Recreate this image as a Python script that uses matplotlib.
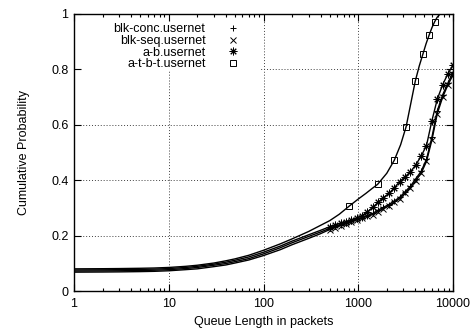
import matplotlib
matplotlib.use("Agg")
import matplotlib.pyplot as plt
from matplotlib.lines import Line2D
from matplotlib.patches import Rectangle
from matplotlib.ticker import FixedLocator, FixedFormatter, LogLocator, NullFormatter

plt.rcParams['font.family'] = ['Liberation Sans', 'DejaVu Sans']
plt.rcParams['font.size'] = 9

# ---- data -------------------------------------------------------------
labels = ["blk-conc.usernet", "blk-seq.usernet", "a-b.usernet", "a-t-b-t.usernet"]

# queue lengths (packets) sampled for the three block-style runs;
# points from 500 packets on carry a marker
q_runs = [1, 2, 3, 5, 7, 10, 15, 20, 30, 40, 50, 70, 100, 150, 200, 300, 400,
          500, 570, 650, 740, 840, 960, 1090, 1240, 1420, 1620, 1840, 2100,
          2400, 2730, 3110, 3550, 4040, 4610, 5250, 5990, 6820, 7780, 8860, 10000]
first_marked_q = 500

blk_conc_p = [0.072, 0.0725, 0.073, 0.074, 0.075, 0.077, 0.081, 0.085, 0.093, 0.099,
              0.106, 0.117, 0.134, 0.156, 0.174, 0.197, 0.213,
              0.226, 0.233, 0.240, 0.246, 0.252, 0.259, 0.265, 0.272, 0.280, 0.292, 0.302, 0.312,
              0.325, 0.338, 0.358, 0.378, 0.405, 0.432, 0.475, 0.555, 0.650, 0.708, 0.752, 0.790]
blk_seq_p = [0.068, 0.0685, 0.069, 0.070, 0.071, 0.073, 0.077, 0.080, 0.088, 0.094,
             0.101, 0.112, 0.128, 0.149, 0.167, 0.190, 0.207,
             0.222, 0.229, 0.236, 0.243, 0.250, 0.257, 0.263, 0.269, 0.276, 0.287, 0.297, 0.307,
             0.320, 0.333, 0.352, 0.372, 0.398, 0.425, 0.468, 0.545, 0.640, 0.700, 0.745, 0.780]
a_b_p = [0.076, 0.0765, 0.077, 0.078, 0.079, 0.081, 0.085, 0.089, 0.097, 0.104,
         0.111, 0.123, 0.140, 0.162, 0.180, 0.203, 0.219,
         0.232, 0.238, 0.245, 0.250, 0.255, 0.262, 0.272, 0.285, 0.302, 0.320, 0.337, 0.352,
         0.372, 0.395, 0.412, 0.430, 0.455, 0.487, 0.525, 0.615, 0.692, 0.745, 0.785, 0.815]

# a-t-b-t run: markers every 800 packets
q_atbt = [1, 2, 3, 5, 7, 10, 15, 20, 30, 40, 50, 70, 100, 150, 200, 300, 400, 500,
          630, 800, 1000, 1200, 1400, 1600, 2000, 2400, 2800, 3200, 3600, 4000, 4400,
          4800, 5200, 5600, 6000, 6400, 6800, 7300, 10000]
atbt_p = [0.080, 0.0805, 0.081, 0.082, 0.083, 0.085, 0.089, 0.093, 0.101, 0.109,
          0.116, 0.129, 0.147, 0.170, 0.188, 0.215, 0.237, 0.254,
          0.277, 0.306, 0.332, 0.352, 0.370, 0.385, 0.425, 0.472, 0.528, 0.593, 0.680, 0.758,
          0.812, 0.854, 0.893, 0.924, 0.951, 0.972, 0.988, 1.0, 1.0]
atbt_marker_q = [800, 1600, 2400, 3200, 4000, 4800, 5600, 6400]

x_ticks = [1, 10, 100, 1000, 10000]
x_ticklabels = ["1", "10", "100", "1000", "10000"]
y_ticks = [0, 0.2, 0.4, 0.6, 0.8, 1.0]
y_ticklabels = ["0", "0.2", "0.4", "0.6", "0.8", "1"]

runs_marked = [i for i, q in enumerate(q_runs) if q >= first_marked_q]
atbt_marked = [i for i, q in enumerate(q_atbt) if q in atbt_marker_q]

# ---- figure -----------------------------------------------------------
fig = plt.figure(figsize=(4.73, 3.30), dpi=100)
ax = fig.add_axes([74 / 473, 39 / 330, 379 / 473, 277 / 330])
ax.set_xscale("log")
ax.set_xlim(1, 10000)
ax.set_ylim(0, 1)

# dotted grid at the inner major ticks
grid_kw = dict(color="0.25", linestyle=(0, (1, 2)), linewidth=0.7, zorder=0.5)
ax.vlines(x_ticks[1:-1], 0, 1, transform=ax.get_xaxis_transform(), **grid_kw)
ax.hlines(y_ticks[1:-1], 0, 1, transform=ax.get_yaxis_transform(), **grid_kw)

# blank key area
ax.add_patch(Rectangle((0, 0.793), 0.49, 0.207, transform=ax.transAxes,
                       facecolor="white", edgecolor="none", zorder=1))

line_kw = dict(color="black", linewidth=1.0, markeredgewidth=0.7, zorder=2)
ax.plot(q_runs, blk_conc_p, marker="+", markersize=5, markevery=runs_marked, **line_kw)
ax.plot(q_runs, blk_seq_p, marker="x", markersize=4, markevery=runs_marked, **line_kw)
ax.plot(q_runs, a_b_p, marker=(8, 2, 0), markersize=5.5, markevery=runs_marked, **line_kw)
ax.plot(q_atbt, atbt_p, marker="s", markersize=4.5, markerfacecolor="none",
        markevery=atbt_marked, **line_kw)

# axes styling
ax.set_axisbelow(False)
for s in ax.spines.values():
    s.set_linewidth(1.0)
    s.set_zorder(3)
ax.xaxis.set_major_locator(FixedLocator(x_ticks))
ax.xaxis.set_major_formatter(FixedFormatter(x_ticklabels))
ax.xaxis.set_minor_locator(LogLocator(base=10, subs=range(2, 10)))
ax.xaxis.set_minor_formatter(NullFormatter())
ax.yaxis.set_major_locator(FixedLocator(y_ticks))
ax.yaxis.set_major_formatter(FixedFormatter(y_ticklabels))
ax.tick_params(which="both", direction="in", top=True, right=True, width=0.8,
               labelsize=9, colors="black")
ax.tick_params(which="major", length=5)
ax.tick_params(which="minor", length=2.5)
ax.tick_params(axis="x", pad=5)
ax.tick_params(axis="y", pad=4)

ax.set_xlabel("Queue Length in packets", fontsize=9)
ax.set_ylabel("Cumulative Probability", fontsize=9)
ax.xaxis.set_label_coords(0.5, -0.09)
ax.yaxis.set_label_coords(-0.115, 0.5)

handles = [
    Line2D([], [], color="black", linestyle="none", marker="+", markersize=5, markeredgewidth=0.7),
    Line2D([], [], color="black", linestyle="none", marker="x", markersize=4, markeredgewidth=0.7),
    Line2D([], [], color="black", linestyle="none", marker=(8, 2, 0), markersize=5.5, markeredgewidth=0.7),
    Line2D([], [], color="black", linestyle="none", marker="s", markersize=4.5,
           markerfacecolor="none", markeredgewidth=0.7),
]
ax.legend(handles, labels, loc="upper right", bbox_to_anchor=((238 - 74) / 379, 0.967),
          frameon=False, markerfirst=False, handlelength=0.8, handletextpad=1.8,
          labelspacing=-0.02, borderpad=0, borderaxespad=0, fontsize=9)

fig.savefig("out.png", dpi=100)
